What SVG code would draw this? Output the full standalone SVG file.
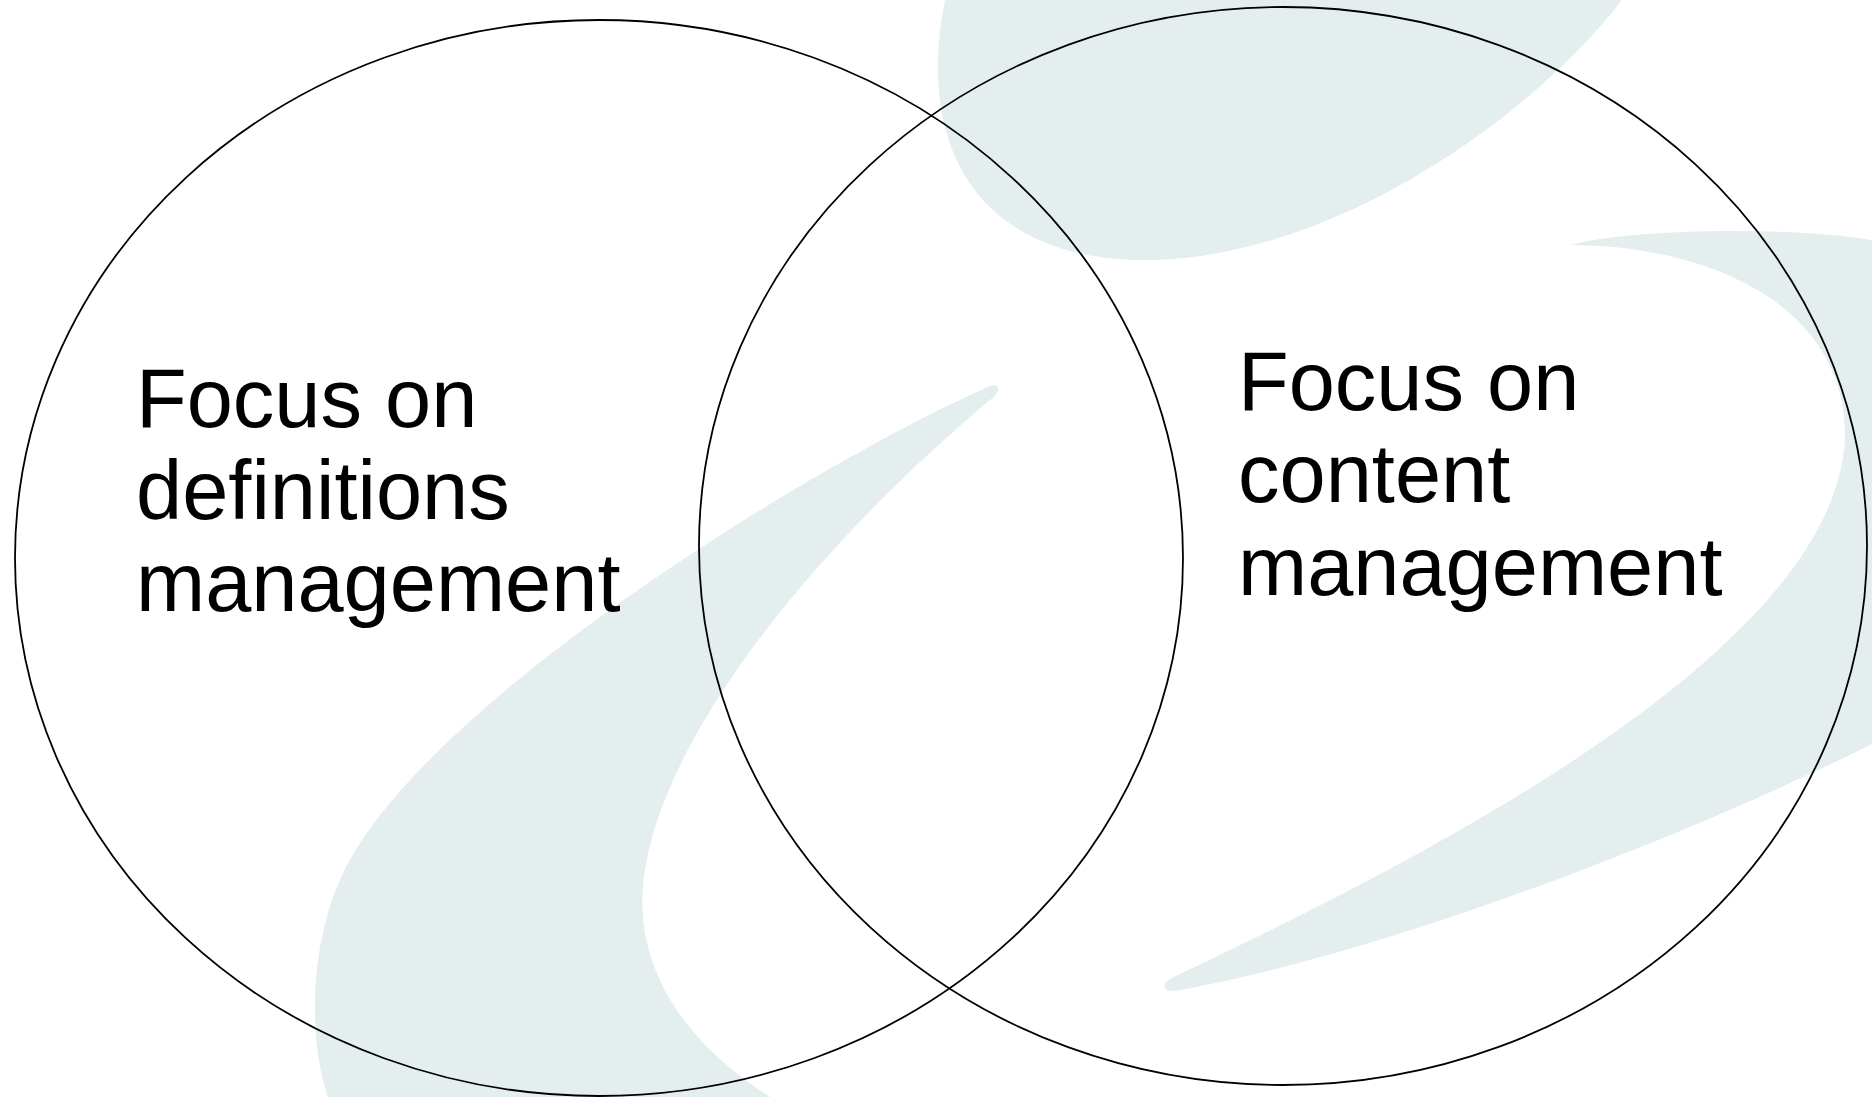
<svg xmlns="http://www.w3.org/2000/svg" width="1872" height="1097" viewBox="0 0 1872 1097">
<style>
.bg{fill:#e4eeef;stroke:none}
.set{fill:none;stroke:#000;stroke-width:1.8}
.lbl{font-family:"Liberation Sans",Arial,sans-serif;font-size:83px;fill:#000}
</style>
<rect width="1872" height="1097" fill="#fff"/>
<g id="background">
<path class="bg" d="M945 0 C915 150 980 262 1150 260 C1330 258 1530 120 1622 0 Z"/>
<path class="bg" d="M1571 245 C1620 230 1780 225 1872 240 L1872 744 C1700 830 1400 950 1180 990 C1162 994 1160 984 1172 978 C1420 860 1840 650 1845 435 C1845 300 1700 245 1571 245 Z"/>
<path class="bg" d="M990 386 C800 470 410 715 340 880 C310 947 308 1040 328 1097 L770 1097 C680 1040 630 960 645 870 C665 740 800 560 990 400 C1002 392 1000 382 990 386 Z"/>
</g>
<g id="connectors"></g>
<g id="node-definitions">
<ellipse class="set" cx="599" cy="558" rx="584" ry="538"/>
<text class="lbl" x="136" y="427">Focus on</text>
<text class="lbl" x="136" y="519">definitions</text>
<text class="lbl" x="136" y="611">management</text>
</g>
<g id="node-content">
<ellipse class="set" cx="1283" cy="546" rx="584" ry="539"/>
<text class="lbl" x="1238" y="410">Focus on</text>
<text class="lbl" x="1238" y="502">content</text>
<text class="lbl" x="1238" y="595">management</text>
</g>
</svg>
